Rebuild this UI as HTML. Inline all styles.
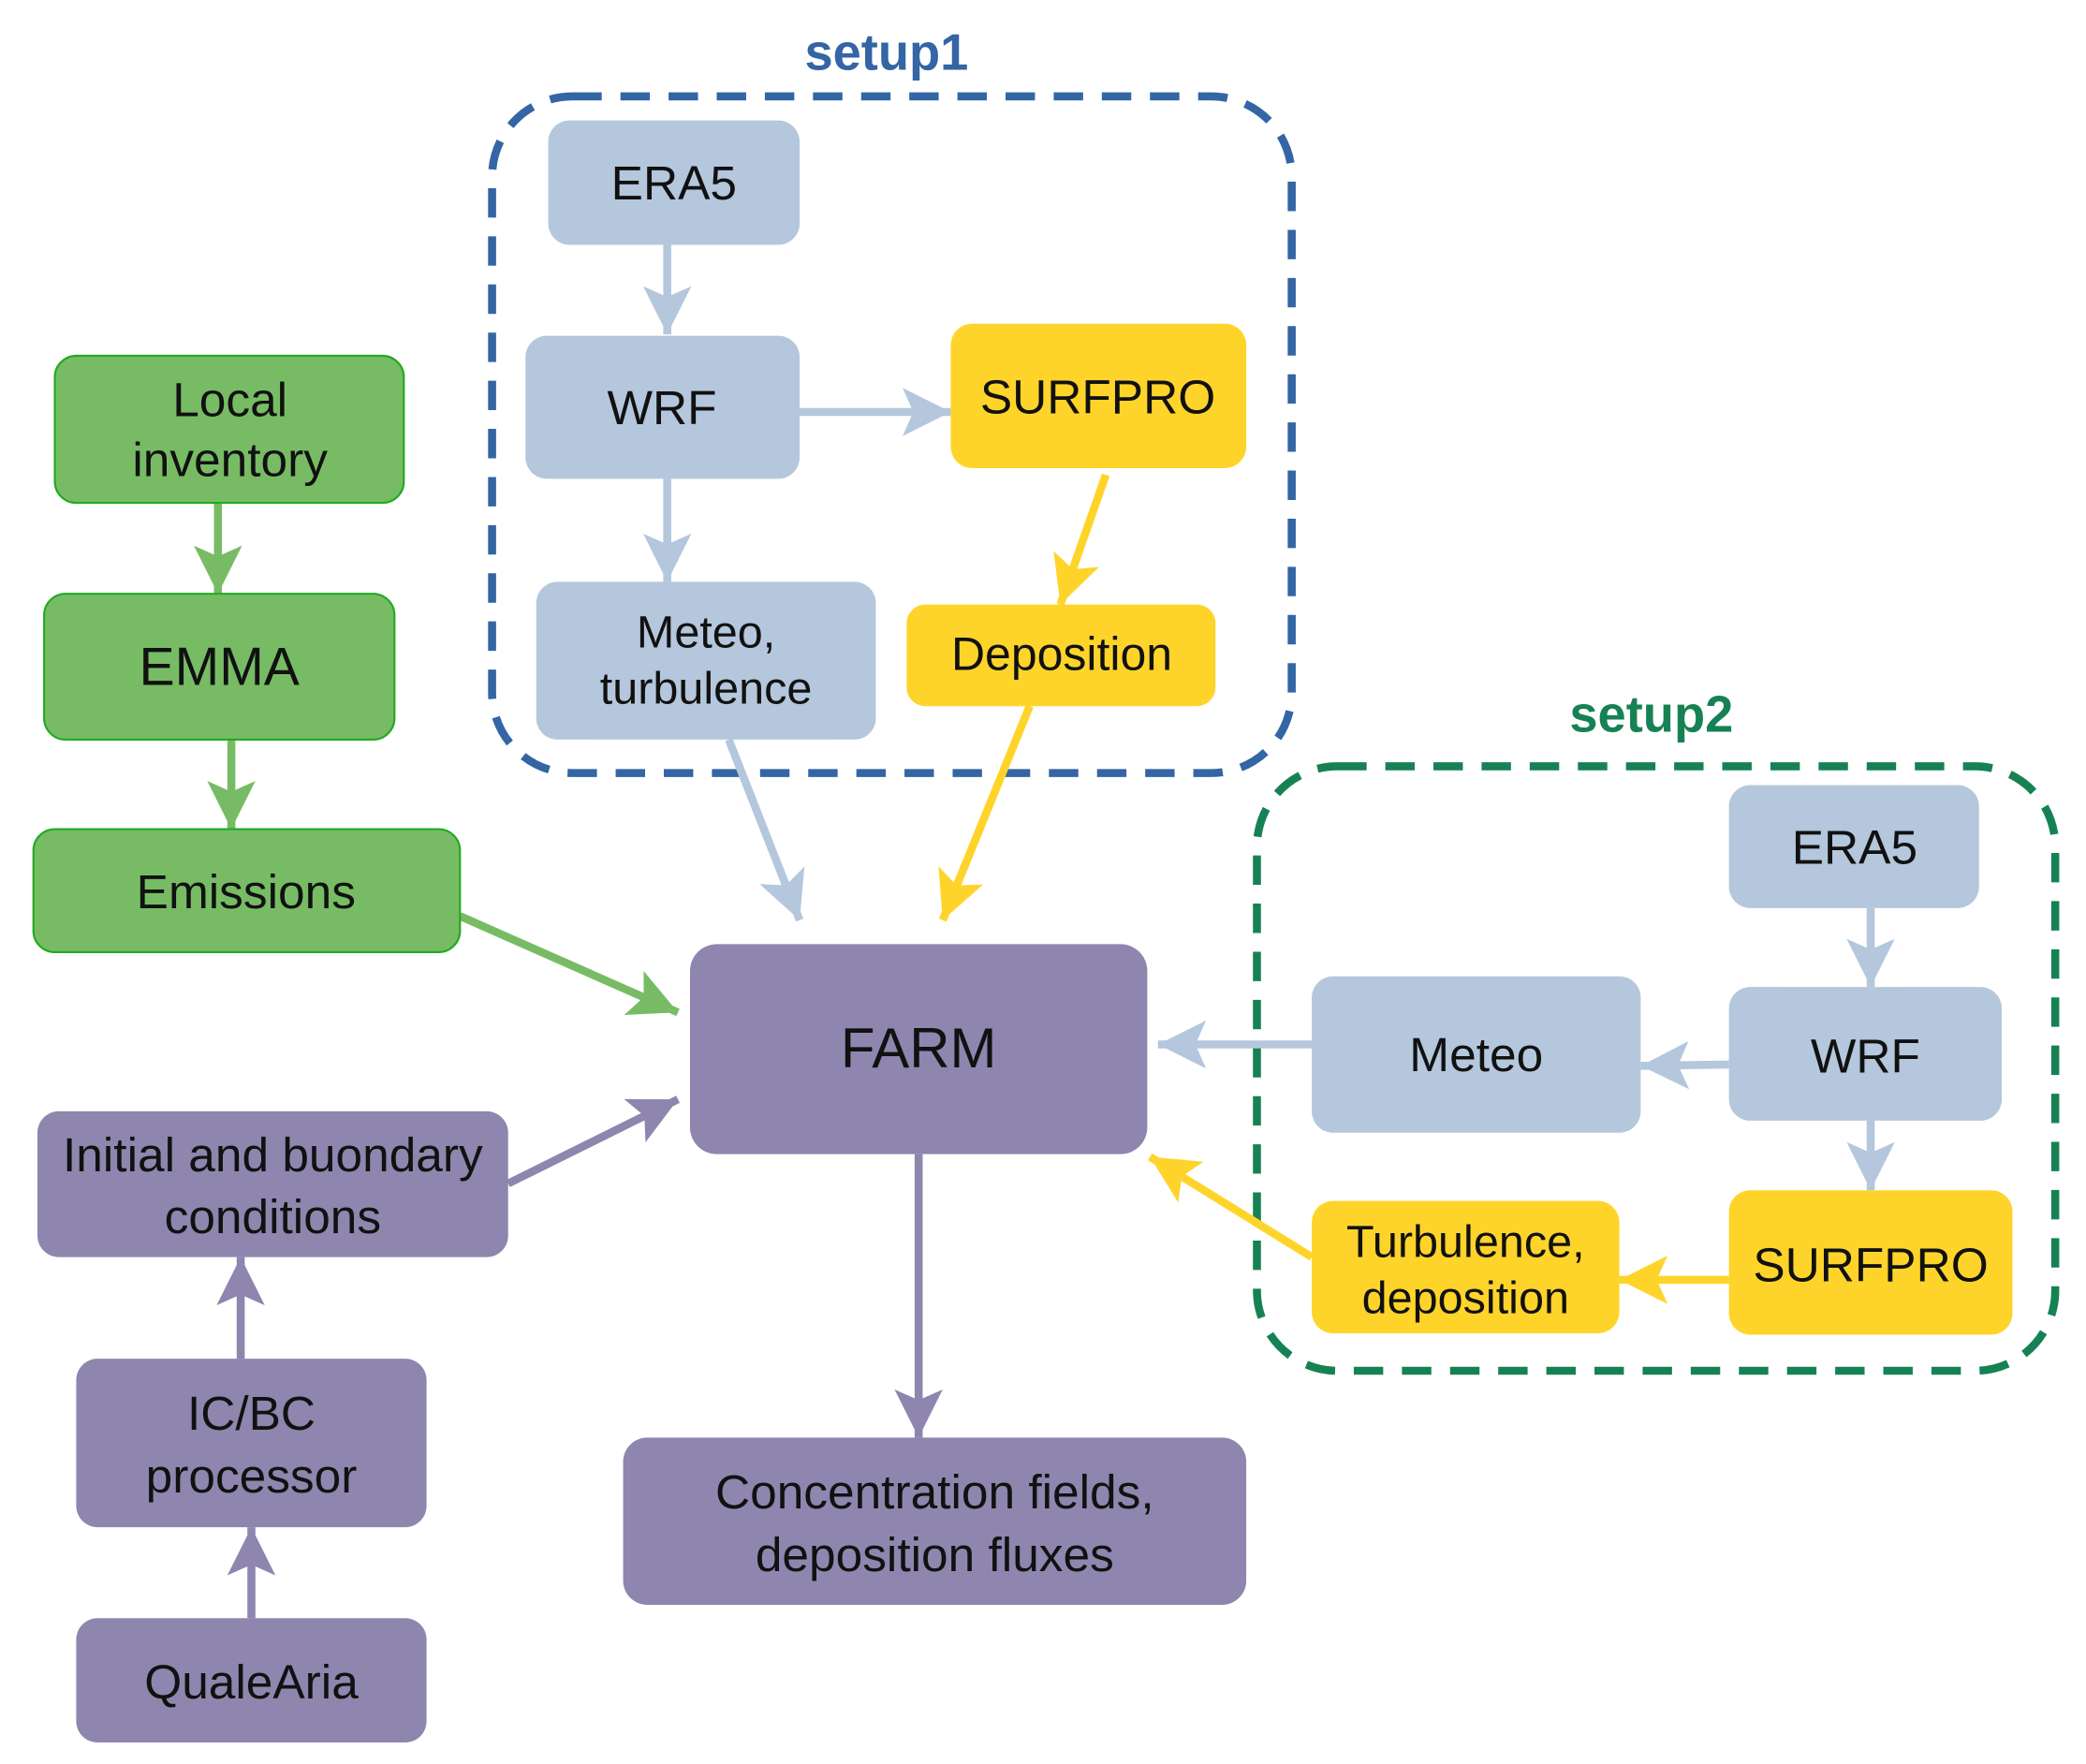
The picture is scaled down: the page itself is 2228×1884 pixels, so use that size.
<!DOCTYPE html>
<html><head><meta charset="utf-8"><style>html,body{margin:0;padding:0;background:#fff}svg{display:block}</style></head>
<body>
<svg width="2228" height="1884" viewBox="0 0 1560 1319" xmlns="http://www.w3.org/2000/svg" font-family="Liberation Sans, sans-serif">
<defs>
<marker id="mb" markerUnits="userSpaceOnUse" markerWidth="40" markerHeight="40" refX="36" refY="18" orient="auto"><path d="M0,0 L36,18 L0,36 L8,18 Z" fill="#b4c7dc"/></marker>
<marker id="my" markerUnits="userSpaceOnUse" markerWidth="40" markerHeight="40" refX="36" refY="18" orient="auto"><path d="M0,0 L36,18 L0,36 L8,18 Z" fill="#ffd42a"/></marker>
<marker id="mg" markerUnits="userSpaceOnUse" markerWidth="40" markerHeight="40" refX="36" refY="18" orient="auto"><path d="M0,0 L36,18 L0,36 L8,18 Z" fill="#77bc65"/></marker>
<marker id="mp" markerUnits="userSpaceOnUse" markerWidth="40" markerHeight="40" refX="36" refY="18" orient="auto"><path d="M0,0 L36,18 L0,36 L8,18 Z" fill="#8e86ae"/></marker>
</defs>
<rect x="0" y="0" width="1560" height="1319" fill="#fff"/>
<!-- group boxes -->
<rect x="368" y="72" width="598" height="506" rx="60" fill="none" stroke="#3465a4" stroke-width="6" stroke-dasharray="22 14"/>
<text x="663" y="52" text-anchor="middle" font-size="38" font-weight="bold" fill="#3465a4">setup1</text>
<rect x="940" y="573" width="597" height="452" rx="60" fill="none" stroke="#168253" stroke-width="6" stroke-dasharray="22 14"/>
<text x="1235" y="547" text-anchor="middle" font-size="38" font-weight="bold" fill="#168253">setup2</text>
<!-- connectors -->
<g stroke-width="6" fill="none">
<line x1="499" y1="183" x2="499" y2="250" stroke="#b4c7dc" marker-end="url(#mb)"/>
<line x1="598" y1="308" x2="711" y2="308" stroke="#b4c7dc" marker-end="url(#mb)"/>
<line x1="499" y1="358" x2="499" y2="435" stroke="#b4c7dc" marker-end="url(#mb)"/>
<line x1="827" y1="355" x2="793" y2="452" stroke="#ffd42a" marker-end="url(#my)"/>
<line x1="545" y1="553" x2="598" y2="688" stroke="#b4c7dc" marker-end="url(#mb)"/>
<line x1="770" y1="528" x2="705" y2="688" stroke="#ffd42a" marker-end="url(#my)"/>
<line x1="163" y1="376" x2="163" y2="444" stroke="#77bc65" marker-end="url(#mg)"/>
<line x1="173" y1="553" x2="173" y2="620" stroke="#77bc65" marker-end="url(#mg)"/>
<line x1="344" y1="685" x2="507" y2="757" stroke="#77bc65" marker-end="url(#mg)"/>
<line x1="380" y1="885" x2="507" y2="822" stroke="#8e86ae" marker-end="url(#mp)"/>
<line x1="180" y1="1016" x2="180" y2="940" stroke="#8e86ae" marker-end="url(#mp)"/>
<line x1="188" y1="1210" x2="188" y2="1142" stroke="#8e86ae" marker-end="url(#mp)"/>
<line x1="687" y1="863" x2="687" y2="1075" stroke="#8e86ae" marker-end="url(#mp)"/>
<line x1="1399" y1="679" x2="1399" y2="738" stroke="#b4c7dc" marker-end="url(#mb)"/>
<line x1="1293" y1="796" x2="1227" y2="797" stroke="#b4c7dc" marker-end="url(#mb)"/>
<line x1="981" y1="781" x2="866" y2="781" stroke="#b4c7dc" marker-end="url(#mb)"/>
<line x1="1399" y1="838" x2="1399" y2="890" stroke="#b4c7dc" marker-end="url(#mb)"/>
<line x1="1293" y1="957" x2="1211" y2="957" stroke="#ffd42a" marker-end="url(#my)"/>
<line x1="981" y1="940" x2="860" y2="865" stroke="#ffd42a" marker-end="url(#my)"/>
</g>
<!-- nodes -->
<g font-size="36" fill="#111" text-anchor="middle">
<rect x="410" y="90" width="188" height="93" rx="16" fill="#b4c7dc"/><text x="504" y="149">ERA5</text>
<rect x="393" y="251" width="205" height="107" rx="16" fill="#b4c7dc"/><text x="495" y="317">WRF</text>
<rect x="711" y="242" width="221" height="108" rx="16" fill="#ffd42a"/><text x="821" y="309">SURFPRO</text>
<rect x="401" y="435" width="254" height="118" rx="16" fill="#b4c7dc"/><text x="528" y="484" font-size="34">Meteo,</text><text x="528" y="526" font-size="34">turbulence</text>
<rect x="678" y="452" width="231" height="76" rx="14" fill="#ffd42a"/><text x="794" y="501" font-size="35">Deposition</text>
<rect x="41" y="266" width="261" height="110" rx="16" fill="#77bc65" stroke="#22aa22" stroke-width="1.5"/><text x="172" y="311">Local</text><text x="172" y="356">inventory</text>
<rect x="33" y="444" width="262" height="109" rx="16" fill="#77bc65" stroke="#22aa22" stroke-width="1.5"/><text x="164" y="512" font-size="40">EMMA</text>
<rect x="25" y="620" width="319" height="92" rx="16" fill="#77bc65" stroke="#22aa22" stroke-width="1.5"/><text x="184" y="679">Emissions</text>
<rect x="516" y="706" width="342" height="157" rx="20" fill="#8e86ae"/><text x="687" y="798" font-size="42">FARM</text>
<rect x="28" y="831" width="352" height="109" rx="16" fill="#8e86ae"/><text x="204" y="876">Initial and buondary</text><text x="204" y="922">conditions</text>
<rect x="57" y="1016" width="262" height="126" rx="16" fill="#8e86ae"/><text x="188" y="1069">IC/BC</text><text x="188" y="1116">processor</text>
<rect x="57" y="1210" width="262" height="93" rx="16" fill="#8e86ae"/><text x="188" y="1270">QualeAria</text>
<rect x="466" y="1075" width="466" height="125" rx="18" fill="#8e86ae"/><text x="699" y="1128">Concentration fields,</text><text x="699" y="1175">deposition fluxes</text>
<rect x="1293" y="587" width="187" height="92" rx="16" fill="#b4c7dc"/><text x="1387" y="646">ERA5</text>
<rect x="1293" y="738" width="204" height="100" rx="16" fill="#b4c7dc"/><text x="1395" y="802">WRF</text>
<rect x="981" y="730" width="246" height="117" rx="16" fill="#b4c7dc"/><text x="1104" y="801">Meteo</text>
<rect x="1293" y="890" width="212" height="108" rx="16" fill="#ffd42a"/><text x="1399" y="958">SURFPRO</text>
<rect x="981" y="898" width="230" height="99" rx="16" fill="#ffd42a"/><text x="1096" y="940" font-size="34">Turbulence,</text><text x="1096" y="982" font-size="34">deposition</text>
</g>
</svg>
</body></html>
